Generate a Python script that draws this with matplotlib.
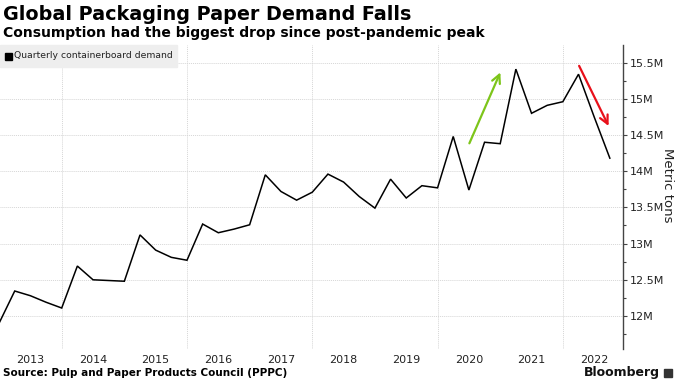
import numpy as np
import matplotlib
matplotlib.use("Agg")
import matplotlib.pyplot as plt
from matplotlib.patches import Rectangle

# quarterly containerboard demand, millions of metric tons (quarter ends, Dec 2012 .. Sep 2022)
demand = [11.90, 12.345, 12.28, 12.19, 12.11, 12.69, 12.50, 12.49,
          12.48, 13.12, 12.91, 12.81, 12.77, 13.27, 13.15, 13.20,
          13.26, 13.95, 13.72, 13.60, 13.71, 13.96, 13.85, 13.65,
          13.49, 13.89, 13.63, 13.80, 13.77, 14.48, 13.74, 14.40,
          14.38, 15.41, 14.80, 14.91, 14.96, 15.34, 14.75, 14.18]
quarters = 2013 + 0.25 * np.arange(len(demand))

years = list(range(2013, 2023))
yticks = [12, 12.5, 13, 13.5, 14, 14.5, 15, 15.5]
ylabels = ["12M", "12.5M", "13M", "13.5M", "14M", "14.5M", "15M", "15.5M"]

# arrows (start, end) in data units
up_arrow = ((2020.49, 14.35), (2021.02, 15.40))
down_arrow = ((2022.24, 15.49), (2022.75, 14.59))

fig = plt.figure(figsize=(6.8, 3.81), dpi=100)
ax = fig.add_axes([0.0, 0.084, 0.9157, 0.798])

ax.plot(quarters, demand, color="black", lw=1.1, solid_joinstyle="miter")

ax.annotate("", xy=up_arrow[1], xytext=up_arrow[0],
            arrowprops=dict(arrowstyle="->,head_length=0.6,head_width=0.3",
                            color="#7dc51a", lw=1.6))
ax.annotate("", xy=down_arrow[1], xytext=down_arrow[0],
            arrowprops=dict(arrowstyle="->,head_length=0.6,head_width=0.3",
                            color="#e8101a", lw=1.6))

ax.set_xlim(2013.015, 2022.955)
ax.set_ylim(11.544, 15.744)

# grid
for yv in yticks:
    ax.axhline(yv, color="#d6d6d6", lw=0.7, ls=(0, (1, 1)), zorder=0)
for xv in [2014, 2016, 2018, 2020, 2022]:
    ax.axvline(xv, color="#d6d6d6", lw=0.7, ls=(0, (1, 1)), zorder=0)

# x labels in mid-year
ax.set_xticks([y + 0.5 for y in years])
ax.set_xticklabels([str(y) for y in years], fontsize=8, color="#222222")
ax.tick_params(axis="x", length=0, pad=4)

ax.yaxis.tick_right()
ax.set_yticks(yticks)
ax.set_yticklabels(ylabels, fontsize=8, color="#222222")
ax.set_yticks(np.arange(11.75, 15.75, 0.5), minor=True)
ax.tick_params(axis="y", which="major", length=3, width=0.8, color="#444444", pad=2)
ax.tick_params(axis="y", which="minor", length=2, width=0.8, color="#444444")

for s in ["top", "left", "bottom"]:
    ax.spines[s].set_visible(False)
ax.spines["right"].set_color("#444444")
ax.spines["right"].set_linewidth(1.0)

fig.text(0.981, 0.515, "Metric tons", rotation=-90, fontsize=9.5,
         color="#222222", ha="center", va="center")

# legend box
fig.patches.append(Rectangle((0.0, 1 - 66.7 / 381), 177 / 680, 21.7 / 381,
                             transform=fig.transFigure, color="#eeeeee", zorder=1))
fig.patches.append(Rectangle((5 / 680, 1 - 60 / 381), 7 / 680, 7 / 381,
                             transform=fig.transFigure, color="black", zorder=2))
fig.text(14 / 680, 1 - 56 / 381, "Quarterly containerboard demand", fontsize=6.7,
         color="#222222", va="center", ha="left")

fig.text(0.004, 0.963, "Global Packaging Paper Demand Falls", fontsize=13.8,
         fontweight="bold", va="center", ha="left")
fig.text(0.004, 0.913, "Consumption had the biggest drop since post-pandemic peak",
         fontsize=10, fontweight="bold", va="center", ha="left")
fig.text(0.004, 0.022, "Source: Pulp and Paper Products Council (PPPC)", fontsize=7.5,
         fontweight="bold", va="center", ha="left")
fig.text(0.971, 0.022, "Bloomberg", fontsize=9, fontweight="bold",
         va="center", ha="right", color="#111111")
fig.patches.append(Rectangle((664 / 680, 1 - 377 / 381), 8 / 680, 8 / 381,
                             transform=fig.transFigure, color="#333333", zorder=2))

fig.savefig("out.png", dpi=100)
